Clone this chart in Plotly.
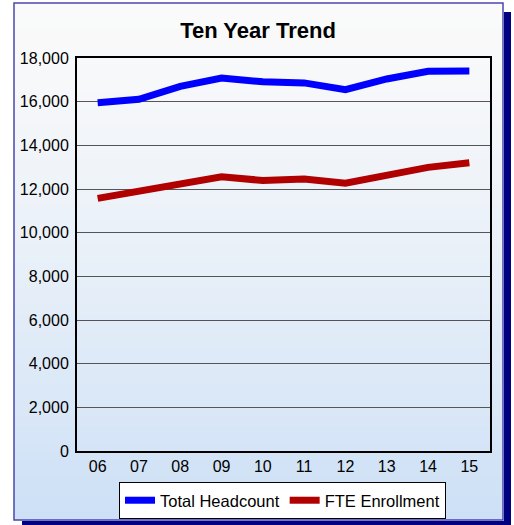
import plotly.graph_objects as go

years = ["06", "07", "08", "09", "10", "11", "12", "13", "14", "15"]
headcount = [15950, 16110, 16700, 17080, 16910, 16860, 16550, 17040, 17390, 17400]
fte = [11570, 11890, 12270, 12560, 12390, 12460, 12270, 12600, 12990, 13200]

W, H = 514, 525
L, R, T, B = 77, 24, 58, 74
pw, ph = W - L - R, H - T - B

def px(x):
    return (x - L) / pw

def py(y):
    return (H - B - y) / ph

fig = go.Figure()
fig.add_trace(go.Scatter(x=years, y=headcount, mode="lines", name="Total Headcount",
                         line=dict(color="#0000ff", width=7)))
fig.add_trace(go.Scatter(x=years, y=fte, mode="lines", name="FTE Enrollment",
                         line=dict(color="#b00000", width=7)))

shapes = []
# shadow
shapes.append(dict(type="rect", xref="paper", yref="paper", x0=px(504), x1=px(511), y0=py(525), y1=py(12),
                   fillcolor="#000080", line=dict(width=0), layer="below"))
shapes.append(dict(type="rect", xref="paper", yref="paper", x0=px(22), x1=px(511), y0=py(525), y1=py(521),
                   fillcolor="#000080", line=dict(width=0), layer="below"))
# gradient panel
top, bot = 3, 520
n = 60
c0 = (250, 250, 250)
c1 = (205, 224, 246)
for i in range(n):
    y0 = top + (bot - top) * i / n
    y1 = top + (bot - top) * (i + 1) / n + 0.6
    t = i / (n - 1)
    t = t ** 1.3
    c = tuple(int(round(c0[k] + (c1[k] - c0[k]) * t)) for k in range(3))
    shapes.append(dict(type="rect", xref="paper", yref="paper", x0=px(14), x1=px(503),
                       y0=py(min(y1, bot)), y1=py(y0), fillcolor="rgb(%d,%d,%d)" % c,
                       line=dict(width=0), layer="below"))
shapes.append(dict(type="rect", xref="paper", yref="paper", x0=px(14), x1=px(503), y0=py(520), y1=py(3),
                   fillcolor="rgba(0,0,0,0)", line=dict(color="#4848b0", width=1.5), layer="below"))

fig.update_layout(
    width=W, height=H,
    margin=dict(l=L, r=R, t=T, b=B, autoexpand=False),
    paper_bgcolor="white",
    plot_bgcolor="rgba(0,0,0,0)",
    font=dict(family="Liberation Sans, Arial", size=16, color="black"),
    title=dict(text="<b>Ten Year Trend</b>", x=258 / W, xanchor="center", y=1 - 30 / H, yanchor="middle",
               font=dict(size=22, color="black")),
    shapes=shapes,
    showlegend=True,
    legend=dict(orientation="h", x=px(282.5), xanchor="center", y=py(482), yanchor="top",
                bgcolor="white", bordercolor="black", borderwidth=1,
                font=dict(size=16.5), itemwidth=30, tracegroupgap=0),
    xaxis=dict(type="category", range=[-0.5, 9.5], showline=True, linecolor="black", linewidth=2,
               mirror=True, showgrid=False, ticks="", tickfont=dict(size=16)),
    yaxis=dict(range=[0, 18000], dtick=2000, tickformat=",", showline=True, linecolor="black",
               linewidth=2, mirror=True, showgrid=True, gridcolor="#555555", gridwidth=1,
               ticks="", ticklabelstandoff=3, zeroline=False, tickfont=dict(size=16)),
)

fig.write_html("out.html", config={"displayModeBar": False},
               post_script="document.body.style.margin='0';document.body.style.overflow='hidden';")
